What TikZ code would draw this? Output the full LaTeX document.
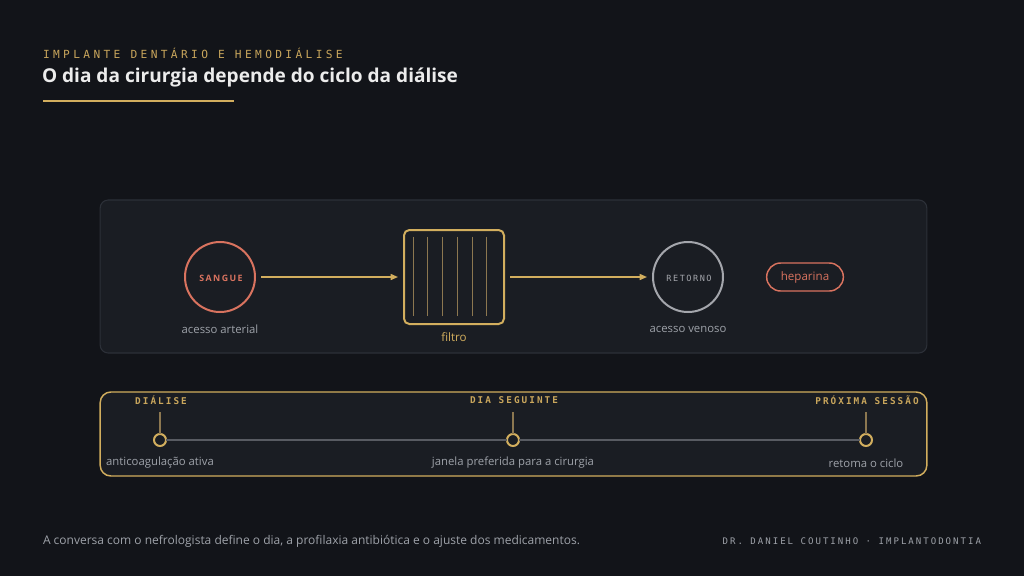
\documentclass[tikz,border=0pt]{standalone}
\usepackage{fontspec}
\setmainfont{Open Sans}
\newfontfamily\kickerfont{DejaVu Sans Mono}[LetterSpace=30]
\newfontfamily\tagfont{DejaVu Sans Mono}[LetterSpace=22]
\newfontfamily\retfont{DejaVu Sans Mono}[LetterSpace=18]
\newfontfamily\sangfont{Open Sans}[LetterSpace=16]
\newfontfamily\signfont{DejaVu Sans Mono}[LetterSpace=22]
\usetikzlibrary{arrows.meta}
\definecolor{bg}{HTML}{121419}
\definecolor{panel}{HTML}{1A1D23}
\definecolor{panelline}{HTML}{2C3038}
\definecolor{gold}{HTML}{D2AE5E}
\definecolor{golddim}{HTML}{8C7750}
\definecolor{kicker}{HTML}{C9A65C}
\definecolor{coral}{HTML}{D9735F}
\definecolor{greytxt}{HTML}{9EA2A9}
\definecolor{greyring}{HTML}{A4A6AC}
\definecolor{tline}{HTML}{585B62}
\definecolor{titlecol}{HTML}{ECECEC}
\tikzset{
  every node/.style={inner sep=0pt, outer sep=0pt},
  ring/.style={circle, minimum size=52.5pt, line width=1.5pt, fill=panel},
  caption/.style={text=greytxt, font=\fontsize{8.5}{10}\selectfont},
  flow/.style={draw=gold, line width=1.1pt, -{Triangle[length=5.5pt,width=4.5pt]}, shorten <=4.5pt, shorten >=4.5pt},
  dot/.style={circle, draw=gold, fill=panel, line width=1.5pt, minimum size=9pt},
  tick/.style={draw=golddim, line width=0.9pt},
  stagelabel/.style={text=kicker, font=\tagfont\bfseries\fontsize{7}{8}\selectfont},
}
\begin{document}
\begin{tikzpicture}[x=0.75pt,y=-0.75pt]
\fill[bg] (0,0) rectangle (1024,576);
\useasboundingbox (0,0) rectangle (1024,576);

% header
\node[anchor=west, text=kicker, font=\kickerfont\fontsize{8.4}{10}\selectfont] (kick) at (43,53) {IMPLANTE DENTÁRIO E HEMODIÁLISE};
\node[anchor=west, text=titlecol, font=\fontsize{14.3}{18}\selectfont\bfseries] (title) at (42,77) {O dia da cirurgia depende do ciclo da diálise};
\coordinate (ul1) at (43,101);
\coordinate (ul2) at (234,101);
\draw[gold, line width=1.5pt] (ul1) -- (ul2);

% panel 1
\node[draw=panelline, fill=panel, line width=0.8pt, rounded corners=6pt, minimum width=620pt, minimum height=114.75pt] (p1) at (513.5,276.5) {};

\node[ring, draw=coral] (sangue) at (220,277) {};
\node[text=coral, font=\sangfont\bfseries\fontsize{6.6}{8}\selectfont] (sangtxt) at (221,278) {SANGUE};
\node[caption] (art) at (220,329) {acesso arterial};

\node[draw=gold, line width=1.5pt, rounded corners=4pt, minimum width=75pt, minimum height=70.5pt] (filtro) at (454,277) {};
\foreach \i in {0,...,5} {
  \draw[golddim, line width=0.75pt] (413.3+\i*14.68,236.7) -- (413.3+\i*14.68,315.7);
}
\node[text=gold, font=\fontsize{8.7}{11}\selectfont] (filtxt) at (454,337) {filtro};

\node[ring, draw=greyring] (retorno) at (688,277) {};
\node[text=greyring, font=\retfont\fontsize{6.4}{8}\selectfont] (rettxt) at (689,278) {RETORNO};
\node[caption] (ven) at (688,329) {acesso venoso};

\node[draw=coral, line width=1.1pt, rounded corners=10.5pt, minimum width=57.5pt, minimum height=21pt, text=coral, font=\fontsize{8.7}{11}\selectfont] (hep) at (805,277) {heparina};

\draw[flow] (sangue) -- (filtro);
\draw[flow] (filtro) -- (retorno);

% panel 2
\node[draw=gold, fill=panel, line width=1.1pt, rounded corners=8pt, minimum width=620pt, minimum height=63pt] (p2) at (513.5,434) {};

\node[dot] (d1) at (160,440) {};
\node[dot] (d2) at (513,440) {};
\node[dot] (d3) at (866,440) {};
\draw[tline, line width=1.5pt] (d1) -- (d2);
\draw[tline, line width=1.5pt] (d2) -- (d3);

\coordinate (t1) at (160,412);
\coordinate (t2) at (513,412);
\coordinate (t3) at (866,412);
\draw[tick] (t1) -- (d1);
\draw[tick] (t2) -- (d2);
\draw[tick] (t3) -- (d3);

\node[stagelabel] (l1) at (161,400) {DIÁLISE};
\node[stagelabel] (l2) at (514,400) {DIA SEGUINTE};
\node[stagelabel] (l3) at (867,400) {PRÓXIMA SESSÃO};

\node[caption] (c1) at (160,463) {anticoagulação ativa};
\node[caption] (c2) at (513,463) {janela preferida para a cirurgia};
\node[caption] (c3) at (866,463) {retoma o ciclo};

% footer
\node[anchor=west, text=greytxt, font=\fontsize{9}{11}\selectfont] (foot) at (43,541) {A conversa com o nefrologista define o dia, a profilaxia antibiótica e o ajuste dos medicamentos.};
\node[anchor=east, text=greytxt, font=\signfont\fontsize{6.8}{8}\selectfont] (sign) at (981,541) {DR. DANIEL COUTINHO · IMPLANTODONTIA};
\end{tikzpicture}
\end{document}
